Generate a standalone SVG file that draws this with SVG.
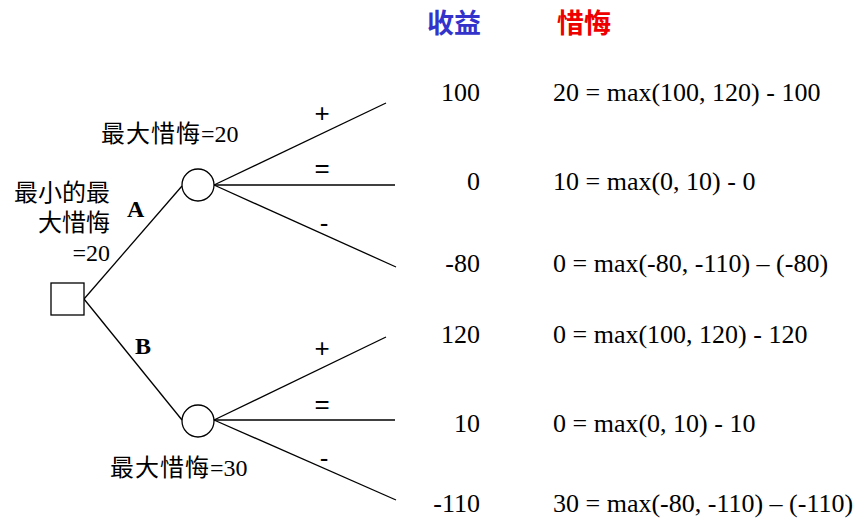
<svg xmlns="http://www.w3.org/2000/svg" width="856" height="520" viewBox="0 0 856 520">
  <style>
    .edge { stroke: #000; stroke-width: 1.3; fill: none; }
    .node { stroke: #000; stroke-width: 1.3; fill: #fff; }
    .cjk { font-family: "Noto Sans CJK TC", sans-serif; font-size: 24px; fill: #000; }
    .lat { font-family: "Liberation Serif", serif; }
    .sign { font-family: "Liberation Sans", sans-serif; font-size: 26px; fill: #000; text-anchor: middle; }
    .choice { font-family: "Liberation Serif", serif; font-size: 24px; font-weight: bold; fill: #000; }
    .val { font-family: "Liberation Serif", serif; font-size: 26px; fill: #000; }
    .head { font-family: "Noto Sans CJK TC", sans-serif; font-size: 27px; font-weight: bold; }
  </style>
  <rect width="856" height="520" fill="#fff"/>

  <!-- column headings -->
  <g id="headings">
    <text class="head" x="427" y="33" fill="#3333cc">收益</text>
    <text class="head" x="557" y="33" fill="#ee0000">惜悔</text>
  </g>

  <!-- connectors -->
  <g id="connectors">
    <line class="edge" x1="84" y1="299" x2="182" y2="186"/>
    <line class="edge" x1="84" y1="299" x2="182" y2="420"/>
    <line class="edge" x1="214" y1="185" x2="386" y2="103"/>
    <line class="edge" x1="214" y1="185" x2="395" y2="185"/>
    <line class="edge" x1="214" y1="185" x2="396" y2="267"/>
    <line class="edge" x1="214" y1="420" x2="386" y2="337"/>
    <line class="edge" x1="214" y1="420" x2="395" y2="420"/>
    <line class="edge" x1="214" y1="420" x2="396" y2="500"/>
  </g>

  <!-- decision node -->
  <g id="decision">
    <rect class="node" x="51" y="283" width="33" height="32"/>
    <text class="cjk" text-anchor="end"><tspan x="110" y="201">最小的最</tspan><tspan x="110" y="231">大惜悔</tspan><tspan class="lat" x="110" y="261">=20</tspan></text>
  </g>

  <!-- chance node A -->
  <g id="chanceA">
    <circle class="node" cx="198" cy="185" r="16"/>
    <text class="cjk" x="101" y="142"><tspan letter-spacing="1">最大惜悔</tspan><tspan class="lat">=20</tspan></text>
    <text class="choice" x="127" y="217">A</text>
    <text class="sign" x="322" y="122">+</text>
    <text class="sign" x="322" y="177">=</text>
    <text class="sign" x="324" y="232">-</text>
  </g>

  <!-- chance node B -->
  <g id="chanceB">
    <circle class="node" cx="198" cy="421" r="16"/>
    <text class="cjk" x="110" y="476"><tspan letter-spacing="1">最大惜悔</tspan><tspan class="lat">=30</tspan></text>
    <text class="choice" x="135" y="354">B</text>
    <text class="sign" x="322" y="357">+</text>
    <text class="sign" x="322" y="413">=</text>
    <text class="sign" x="324" y="467">-</text>
  </g>

  <!-- payoffs -->
  <g id="payoffs" class="val" text-anchor="end">
    <text x="480" y="101">100</text>
    <text x="480" y="190">0</text>
    <text x="480" y="272">-80</text>
    <text x="480" y="343">120</text>
    <text x="480" y="432">10</text>
    <text x="480" y="512">-110</text>
  </g>

  <!-- regrets -->
  <g id="regrets" class="val">
    <text x="553" y="101">20 = max(100, 120) - 100</text>
    <text x="553" y="190">10 = max(0, 10) - 0</text>
    <text x="553" y="272">0 = max(-80, -110) – (-80)</text>
    <text x="553" y="343">0 = max(100, 120) - 120</text>
    <text x="553" y="432">0 = max(0, 10) - 10</text>
    <text x="553" y="512">30 = max(-80, -110) – (-110)</text>
  </g>
</svg>
